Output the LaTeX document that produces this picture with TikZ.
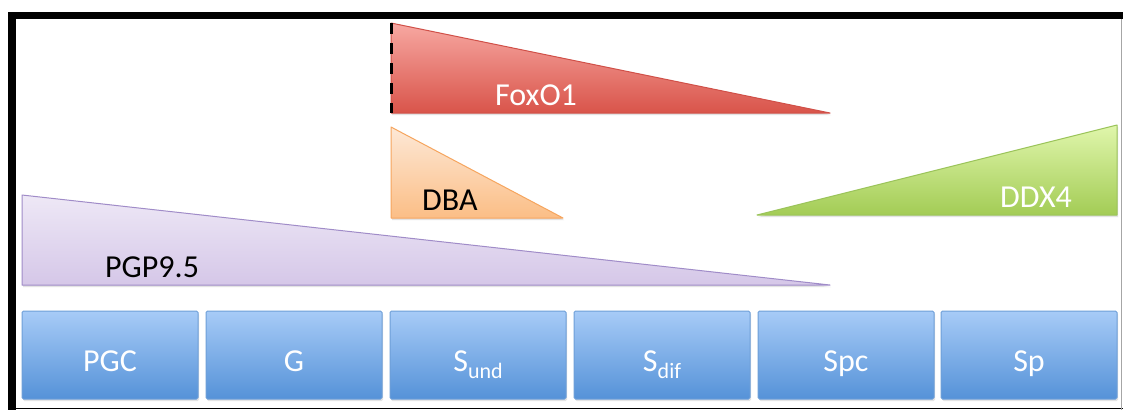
\documentclass[tikz,border=0pt]{standalone}
\usepackage{fontspec}
\setmainfont{Carlito}
\usetikzlibrary{shadows}
\definecolor{foxtop}{HTML}{F7A8A2}
\definecolor{foxbot}{HTML}{D9544A}
\definecolor{foxline}{HTML}{D05048}
\definecolor{dbatop}{HTML}{FDE8D6}
\definecolor{dbabot}{HTML}{FBBE86}
\definecolor{dbaline}{HTML}{F6A55E}
\definecolor{ddxtop}{HTML}{E0F6AC}
\definecolor{ddxbot}{HTML}{A3CC55}
\definecolor{ddxline}{HTML}{9BC45A}
\definecolor{pgptop}{HTML}{EEE8F6}
\definecolor{pgpbot}{HTML}{D5C7E8}
\definecolor{pgpline}{HTML}{A08CC8}
\definecolor{boxtop}{HTML}{A7CBF7}
\definecolor{boxbot}{HTML}{5592D8}
\definecolor{boxline}{HTML}{6E9FD8}
\begin{document}
\begin{tikzpicture}[x=1pt,y=-1pt,
  shd/.style={drop shadow={opacity=0.22,shadow xshift=1pt,shadow yshift=-2pt}},
  tri/.style={shd,line width=1pt,line join=round},
  lbl/.style={font=\fontsize{32}{38}\selectfont,inner sep=0pt,anchor=base west},
  cell/.style={shd,top color=boxtop,bottom color=boxbot,draw=boxline,line width=1pt,
    rounded corners=1.5pt,minimum width=176pt,minimum height=88pt,inner sep=0pt,
    text height=36pt,text depth=4pt,text=white,font=\fontsize{32}{38}\selectfont},
  edgedash/.style={black,line width=3pt,dash pattern=on 11pt off 9pt}]
\useasboundingbox (0,0) rectangle (1123,410);
\fill[white] (0,0) rectangle (1123,410);
% frame
\fill[black] (8,12) rectangle (1123,19);
\fill[black] (8,12) rectangle (16,410);
\draw[black,line width=1.2pt] (16,408.4) -- (1123,408.4);
\draw[black!35,line width=1pt] (1121.5,19) -- (1121.5,410);
% FoxO1
\path[tri,top color=foxtop,bottom color=foxbot,draw=foxline] (391,23) -- (830,113) -- (391,113) -- cycle;
\coordinate (foxa) at (391,23);
\coordinate (foxb) at (391,113);
\draw[edgedash] (foxa) -- (foxb);
\node[lbl,text=white] (foxlbl) at (495,105) {FoxO1};
% DBA
\path[tri,top color=dbatop,bottom color=dbabot,draw=dbaline] (391,127) -- (563,218) -- (391,218) -- cycle;
\node[lbl,text=black] (dbalbl) at (422,210) {DBA};
% DDX4
\path[tri,top color=ddxtop,bottom color=ddxbot,draw=ddxline] (757,215) -- (1117,125) -- (1117,215) -- cycle;
\node[lbl,text=white] (ddxlbl) at (1000,207) {DDX4};
% PGP9.5
\path[tri,top color=pgptop,bottom color=pgpbot,draw=pgpline] (22,195) -- (830,285) -- (22,285) -- cycle;
\node[lbl,text=black] (pgplbl) at (105,277) {PGP9.5};
% stage boxes
\node[cell] (pgc) at (110,355) {PGC};
\node[cell] (g) at (294,355) {G};
\node[cell] (sund) at (478,355) {S\raisebox{-7pt}{\fontsize{22}{24}\selectfont und}};
\node[cell] (sdif) at (662,355) {S\raisebox{-7pt}{\fontsize{22}{24}\selectfont dif}};
\node[cell] (spc) at (846,355) {Spc};
\node[cell] (sp) at (1029,355) {Sp};
\end{tikzpicture}
\end{document}
